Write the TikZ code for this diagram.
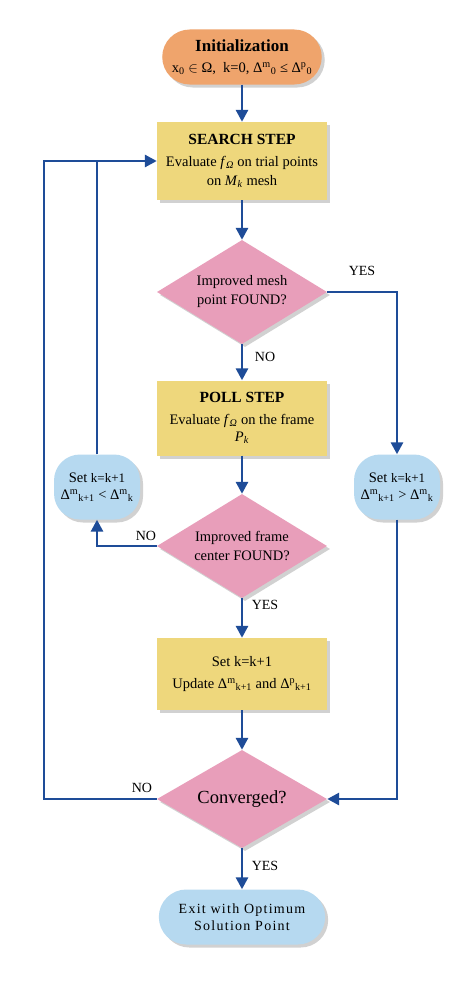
\documentclass[tikz,border=0pt]{standalone}
\usepackage{fontspec}
\setmainfont{Liberation Serif}
\usetikzlibrary{shapes.geometric,shapes.misc,arrows.meta,shadows}
\definecolor{lineblue}{HTML}{1E4C98}
\definecolor{orangec}{HTML}{EFA46C}
\definecolor{yellowc}{HTML}{EED77C}
\definecolor{pinkc}{HTML}{E89EBA}
\definecolor{bluec}{HTML}{B6D9F0}
\newcommand{\kinc}{{\fontsize{13}{19}\selectfont k=k+1}}
\begin{document}
\begin{tikzpicture}[x=1pt,y=-1pt,
  shd/.style={drop shadow={shadow xshift=3pt,shadow yshift=-3pt,fill=black,opacity=0.18}},
  ln/.style={draw=lineblue,line width=2.8pt},
  arr/.style={ln,-{Triangle[length=12pt,width=12pt]}},
  body/.style={font=\fontsize{14.5}{22}\selectfont},
  box/.style={rectangle,fill=yellowc,minimum width=170pt,minimum height=76pt,align=center,body,shd},
  pill/.style={rounded rectangle,minimum width=154pt,minimum height=55pt,align=center,body,shd},
  dia/.style={diamond,aspect=1.6,fill=pinkc,minimum width=170pt,minimum height=104pt,inner sep=0pt,align=center,body,shd},
  blob/.style={rectangle,rounded corners=26pt,fill=bluec,minimum width=86pt,minimum height=65pt,align=center,inner sep=2pt,font=\fontsize{14.5}{19}\selectfont,shd},
  lab/.style={font=\fontsize{14}{16}\selectfont}
]
\useasboundingbox[fill=white] (0,0) rectangle (474,982);

\node[pill,fill=orangec] (init) at (242,57)
  {{\fontsize{17}{20}\selectfont\bfseries Initialization}\\[-1pt]
   x\textsubscript{0} $\in$ Ω,\ \ k=0,\ Δ\textsuperscript{m}\textsubscript{0} ≤ Δ\textsuperscript{p}\textsubscript{0}};

\node[box,minimum height=78pt] (search) at (242,161)
  {{\fontsize{15.5}{20}\selectfont\bfseries SEARCH STEP}\\
   Evaluate \textit{f}\textsubscript{\textit{Ω}} on trial points\\[-3pt]
   on \textit{M}\textsubscript{\textit{k}} mesh};

\node[dia] (d1) at (242,292) {Improved mesh\\[-3pt] point FOUND?};

\node[box,minimum height=75pt] (poll) at (242,418)
  {{\fontsize{15.5}{20}\selectfont\bfseries POLL STEP}\\
   Evaluate \textit{f}\textsubscript{\textit{Ω}} on the frame\\[-5pt]
   \textit{P}\textsubscript{\textit{k}}};

\node[dia] (d2) at (242,546) {Improved frame\\[-3pt] center FOUND?};

\node[blob] (lset) at (97,487) {Set \kinc\\[-2pt] Δ\textsuperscript{m}\textsubscript{k+1} < Δ\textsuperscript{m}\textsubscript{k}};
\node[blob] (rset) at (397,487) {Set \kinc\\[-2pt] Δ\textsuperscript{m}\textsubscript{k+1} > Δ\textsuperscript{m}\textsubscript{k}};

\node[box,minimum height=72pt] (upd) at (242,674)
  {Set k=k+1\\ Update Δ\textsuperscript{m}\textsubscript{k+1} and Δ\textsuperscript{p}\textsubscript{k+1}};

\node[dia,minimum height=98pt,font=\fontsize{18.5}{20}\selectfont] (d3) at (242,799) {Converged?};

\node[pill,fill=bluec,minimum width=173pt,font=\fontsize{14}{17}\selectfont\addfontfeature{LetterSpace=9}] (exit) at (242,917)
  {Exit with Optimum\\ Solution Point};

\coordinate (cl) at (44,799);
\coordinate (ct) at (44,161);
\coordinate (jt) at (97,161);

% connectors
\draw[arr] (init.south) -- (search.north);
\draw[arr] (search.south) -- (d1.north);
\draw[arr] (d1.east) -| (rset.north);
\draw[arr] (d1.south) -- (poll.north);
\draw[arr] (poll.south) -- (d2.north);
\draw[arr] (d2.west) -| (lset.south);
\draw[ln] (lset.north) -- (jt);
\draw[arr] (d2.south) -- (upd.north);
\draw[arr] (upd.south) -- (d3.north);
\draw[arr] (rset.south) |- (d3.east);
\draw[arr] (d3.west) -- (cl) -- (ct) -- (search.west);
\draw[arr] (d3.south) -- (exit.north);

% labels
\node[lab] (l1) at (362,271) {YES};
\node[lab] (l2) at (265,357) {NO};
\node[lab] (l3) at (146,536) {NO};
\node[lab] (l4) at (265,605) {YES};
\node[lab] (l5) at (142,788) {NO};
\node[lab] (l6) at (265,866) {YES};
\end{tikzpicture}
\end{document}
